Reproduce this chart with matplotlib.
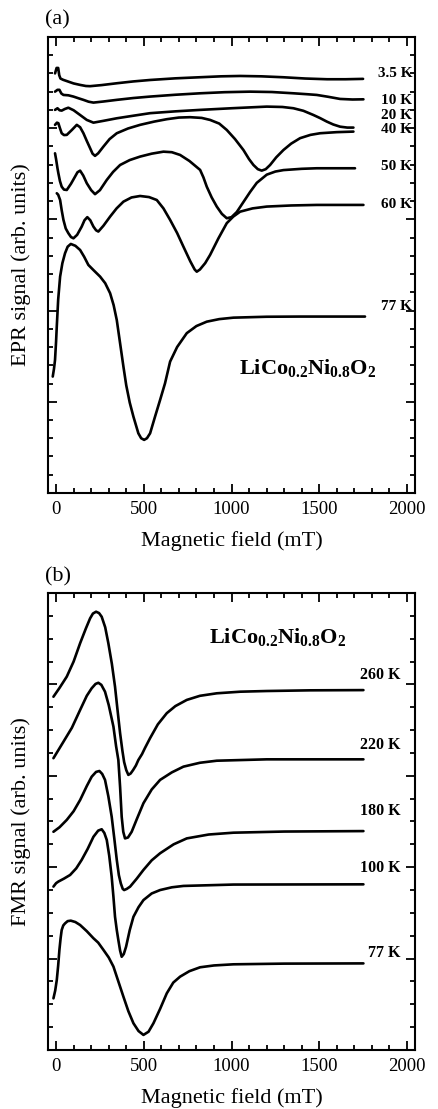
import matplotlib
matplotlib.use("Agg")
import matplotlib.pyplot as plt
from matplotlib.ticker import MultipleLocator, FixedLocator

# ---------------- data: panel (a) EPR ----------------
a35_x = [-6, 3, 12, 18, 25, 40, 61, 100, 137, 170, 194, 260, 346, 440, 536, 680, 821, 940, 1049, 1170,
         1294, 1420, 1545, 1650, 1750]
a35_y = [23.0, 23.3, 23.3, 22.9, 22.72, 22.65, 22.58, 22.45, 22.37, 22.31, 22.3, 22.36, 22.46, 22.56, 22.64,
         22.73, 22.79, 22.84, 22.86, 22.84, 22.79, 22.72, 22.68, 22.68, 22.7]

a10_x = [-6, 8, 19, 30, 42, 70, 99, 130, 156, 185, 213, 270, 346, 440, 536, 680, 821, 960, 1106, 1230,
         1353, 1430, 1486, 1550, 1619, 1690, 1752]
a10_y = [22.0, 22.1, 22.1, 21.9, 21.82, 21.8, 21.73, 21.63, 21.55, 21.45, 21.4, 21.46, 21.55, 21.65, 21.73,
         21.83, 21.91, 21.97, 22.0, 21.98, 21.91, 21.86, 21.82, 21.72, 21.6, 21.57, 21.58]

a20_x = [-6, 8, 20, 32, 50, 70, 100, 137, 175, 213, 270, 346, 440, 536, 680, 821, 1000, 1201, 1290, 1353,
         1410, 1467, 1505, 1543, 1580, 1619, 1660, 1695]
a20_y = [21.0, 21.09, 20.98, 20.96, 21.05, 21.12, 20.98, 20.72, 20.45, 20.3, 20.4, 20.54, 20.68, 20.82, 20.92,
         21.0, 21.09, 21.18, 21.16, 21.09, 20.95, 20.72, 20.55, 20.36, 20.2, 20.08, 20.03, 20.03]

a40_x = [-6, 5, 13, 22, 32, 45, 61, 90, 118, 137, 156, 175, 194, 208, 222, 240, 270, 305, 346, 410, 479,
         560, 631, 700, 764, 830, 878, 930, 973, 1020, 1068, 1100, 1125, 1150, 1172, 1195, 1220, 1255, 1296,
         1340, 1391, 1450, 1505, 1600, 1695]
a40_y = [20.18, 20.3, 20.27, 20.0, 19.72, 19.62, 19.63, 19.9, 20.18, 20.05, 19.72, 19.3, 18.9, 18.6, 18.48,
         18.62, 18.99, 19.4, 19.72, 19.98, 20.18, 20.36, 20.49, 20.58, 20.6, 20.56, 20.45, 20.25, 19.9, 19.4,
         18.8, 18.3, 17.98, 17.75, 17.67, 17.75, 17.98, 18.4, 18.8, 19.15, 19.45, 19.63, 19.72, 19.78, 19.81]

a50_x = [-6, 0, 8, 13, 22, 32, 45, 61, 85, 108, 122, 137, 155, 175, 200, 222, 250, 289, 325, 365, 420, 479,
         545, 612, 660, 707, 760, 821, 840, 859, 887, 916, 945, 973, 1000, 1030, 1068, 1106, 1144, 1201, 1250,
         1296, 1400, 1486, 1704]
a50_y = [18.62, 18.3, 17.8, 17.53, 17.1, 16.79, 16.63, 16.61, 16.95, 17.34, 17.58, 17.67, 17.4, 16.98, 16.6,
         16.38, 16.6, 17.16, 17.6, 17.98, 18.25, 18.44, 18.6, 18.71, 18.68, 18.53, 18.2, 17.71, 17.3, 16.79,
         16.2, 15.7, 15.3, 15.06, 15.12, 15.4, 15.95, 16.5, 17.0, 17.45, 17.62, 17.7, 17.77, 17.8, 17.8]

a60_x = [4, 12, 23, 32, 42, 55, 70, 85, 99, 120, 146, 162, 178, 195, 213, 228, 241, 270, 308, 345, 384, 430,
         479, 530, 574, 612, 650, 690, 726, 765, 790, 802, 820, 850, 878, 925, 973, 1010, 1049, 1120, 1201,
         1340, 1486, 1752]
a60_y = [16.43, 16.35, 16.06, 15.5, 14.97, 14.5, 14.24, 14.03, 13.96, 14.15, 14.6, 14.95, 15.12, 14.95, 14.6,
         14.4, 14.33, 14.65, 15.15, 15.6, 15.97, 16.2, 16.28, 16.22, 16.06, 15.6, 14.97, 14.25, 13.5, 12.7,
         12.25, 12.13, 12.25, 12.6, 13.05, 13.95, 14.79, 15.15, 15.42, 15.6, 15.7, 15.76, 15.79, 15.79]

a77_x = [-19, -12, -6, 0, 4, 12, 23, 36, 51, 66, 84, 110, 137, 160, 184, 215, 251, 280, 308, 328, 346, 365,
         384, 400, 420, 441, 469, 485, 502, 518, 536, 564, 593, 621, 650, 690, 745, 800, 859, 930, 1011, 1200,
         1391, 1761]
a77_y = [6.38, 6.8, 7.29, 8.3, 9.12, 10.6, 11.86, 12.6, 13.14, 13.5, 13.65, 13.55, 13.32, 12.95, 12.5, 12.2,
         11.86, 11.5, 10.95, 10.3, 9.48, 8.2, 6.92, 5.9, 4.95, 4.18, 3.27, 3.0, 2.91, 3.0, 3.27, 4.18, 5.1,
         6.01, 7.2, 8.0, 8.76, 9.15, 9.39, 9.53, 9.61, 9.66, 9.67, 9.67]

a_labels = ["3.5 K", "10 K", "20 K", "40 K", "50 K", "60 K", "77 K"]
a_label_y = [22.97, 21.5, 20.7, 19.9, 17.87, 15.84, 10.2]

# ---------------- data: panel (b) FMR ----------------
b260_x = [-15, 20, 61, 100, 137, 170, 194, 210, 228, 245, 260, 280, 298, 318, 336, 350, 365, 378, 388, 400,
          412, 425, 439, 455, 469, 490, 507, 536, 580, 631, 680, 745, 820, 916, 1050, 1201, 1450, 1752]
b260_y = [15.46, 15.85, 16.34, 17.0, 17.8, 18.45, 18.89, 19.1, 19.18, 19.12, 18.96, 18.5, 17.8, 16.9, 15.9,
          14.9, 13.86, 13.1, 12.6, 12.25, 12.04, 12.1, 12.25, 12.45, 12.69, 12.95, 13.22, 13.65, 14.25, 14.74,
          15.05, 15.32, 15.5, 15.61, 15.68, 15.71, 15.74, 15.75]

b220_x = [-15, 42, 90, 137, 175, 203, 225, 241, 258, 279, 300, 327, 342, 355, 365, 374, 383, 393, 410, 431,
          460, 498, 545, 593, 660, 726, 820, 916, 1201, 1752]
b220_y = [12.77, 13.49, 14.1, 14.88, 15.5, 15.83, 16.02, 16.07, 15.98, 15.68, 15.1, 14.15, 13.3, 12.69, 11.5,
          10.21, 9.55, 9.26, 9.3, 9.55, 10.1, 10.8, 11.4, 11.82, 12.15, 12.4, 12.57, 12.66, 12.72, 12.72]

b180_x = [-15, 20, 61, 100, 137, 175, 203, 228, 247, 263, 279, 298, 317, 332, 346, 358, 369, 380, 388, 403,
          422, 460, 498, 545, 593, 670, 745, 870, 1011, 1300, 1752]
b180_y = [9.55, 9.75, 10.07, 10.45, 10.94, 11.55, 11.96, 12.17, 12.21, 12.08, 11.82, 11.1, 10.21, 9.25, 8.32,
          7.65, 7.29, 7.05, 7.0, 7.05, 7.15, 7.5, 7.88, 8.3, 8.61, 9.0, 9.26, 9.43, 9.51, 9.56, 9.58]

b100_x = [-15, 0, 13, 45, 80, 115, 146, 180, 213, 240, 260, 275, 289, 303, 317, 327, 336, 346, 355, 365, 374,
          386, 399, 420, 441, 470, 498, 545, 593, 660, 726, 1011, 1752]
b100_y = [7.15, 7.3, 7.37, 7.5, 7.66, 7.95, 8.32, 8.8, 9.33, 9.6, 9.66, 9.5, 9.19, 8.5, 7.58, 6.7, 5.83, 5.25,
          4.81, 4.35, 4.08, 4.2, 4.52, 5.25, 5.83, 6.25, 6.56, 6.85, 7.0, 7.12, 7.18, 7.24, 7.25]

b77_x = [-15, -5, 4, 12, 19, 26, 32, 41, 51, 66, 84, 110, 137, 175, 213, 240, 270, 300, 327, 355, 384, 412,
         441, 470, 498, 527, 555, 593, 631, 668, 707, 760, 821, 900, 1011, 1300, 1752]
b77_y = [2.26, 2.6, 3.06, 3.7, 4.38, 4.9, 5.25, 5.45, 5.54, 5.64, 5.66, 5.6, 5.47, 5.2, 4.89, 4.7, 4.38, 4.05,
         3.65, 3.0, 2.33, 1.7, 1.17, 0.83, 0.66, 0.8, 1.17, 1.8, 2.48, 2.95, 3.21, 3.45, 3.62, 3.7, 3.75, 3.78,
         3.79]

b_labels = ["260 K", "220 K", "180 K", "100 K", "77 K"]
b_label_y = [16.41, 13.35, 10.46, 7.96, 4.25]

x_ticks = [0, 500, 1000, 1500, 2000]
x_ticklabels = ["0", "500", "1000", "1500", "2000"]

compound = r"$\mathbf{LiCo_{0.2}Ni_{0.8}O_2}$"

# ---------------- figure ----------------
plt.rcParams["font.family"] = ["Liberation Serif", "DejaVu Serif"]
plt.rcParams["mathtext.fontset"] = "custom"
plt.rcParams["mathtext.rm"] = "Liberation Serif"
plt.rcParams["mathtext.bf"] = "Liberation Serif:bold"
plt.rcParams["mathtext.it"] = "Liberation Serif:italic"

fig = plt.figure(figsize=(4.38, 11.09), dpi=100)
axA = fig.add_axes([0.1096, 0.5555, 0.8379, 0.4112])
axB = fig.add_axes([0.1096, 0.0532, 0.8379, 0.4121])

lw = 1.9
for xs, ys in [(a35_x, a35_y), (a10_x, a10_y), (a20_x, a20_y), (a40_x, a40_y),
               (a50_x, a50_y), (a60_x, a60_y), (a77_x, a77_y)]:
    axA.plot(xs, ys, color="black", lw=lw, solid_joinstyle="round", solid_capstyle="round")
for xs, ys in [(b260_x, b260_y), (b220_x, b220_y), (b180_x, b180_y), (b100_x, b100_y), (b77_x, b77_y)]:
    axB.plot(xs, ys, color="black", lw=lw, solid_joinstyle="round", solid_capstyle="round")

for lab, yy in zip(a_labels, a_label_y):
    axA.text(2030, yy, lab, ha="right", va="center", fontsize=11, fontweight="bold")
for lab, yy in zip(b_labels, b_label_y):
    axB.text(1965, yy, lab, ha="right", va="center", fontsize=11.5, fontweight="bold")

axA.text(1436, 6.85, compound, ha="center", va="center", fontsize=16)
axB.text(1265, 18.07, compound, ha="center", va="center", fontsize=16)

for ax, ymax, ymaj, ylab in [(axA, 25, 5, "EPR signal (arb. units)"),
                             (axB, 20, 4, "FMR signal (arb. units)")]:
    ax.set_xlim(-46, 2046)
    ax.set_ylim(0, ymax)
    ax.xaxis.set_major_locator(FixedLocator(x_ticks))
    ax.set_xticklabels(x_ticklabels)
    ax.xaxis.set_minor_locator(MultipleLocator(100))
    ax.yaxis.set_major_locator(MultipleLocator(ymaj))
    ax.yaxis.set_minor_locator(MultipleLocator(1))
    ax.tick_params(which="both", direction="in", top=True, right=True, width=1.3)
    ax.tick_params(which="major", length=6.5, labelsize=13.5, pad=6)
    ax.tick_params(which="minor", length=3.5)
    ax.tick_params(axis="y", which="both", labelleft=False)
    for s in ax.spines.values():
        s.set_linewidth(1.5)
    ax.set_xlabel("Magnetic field (mT)", fontsize=16, labelpad=9)
    ax.set_ylabel(ylab, fontsize=16)
    ax.yaxis.set_label_coords(-0.045, 0.5)

fig.text(45 / 438, 1 - 20 / 1109, "(a)", ha="left", va="center", fontsize=16)
fig.text(45 / 438, 1 - 577 / 1109, "(b)", ha="left", va="center", fontsize=16)

fig.savefig("out.png", dpi=100)
